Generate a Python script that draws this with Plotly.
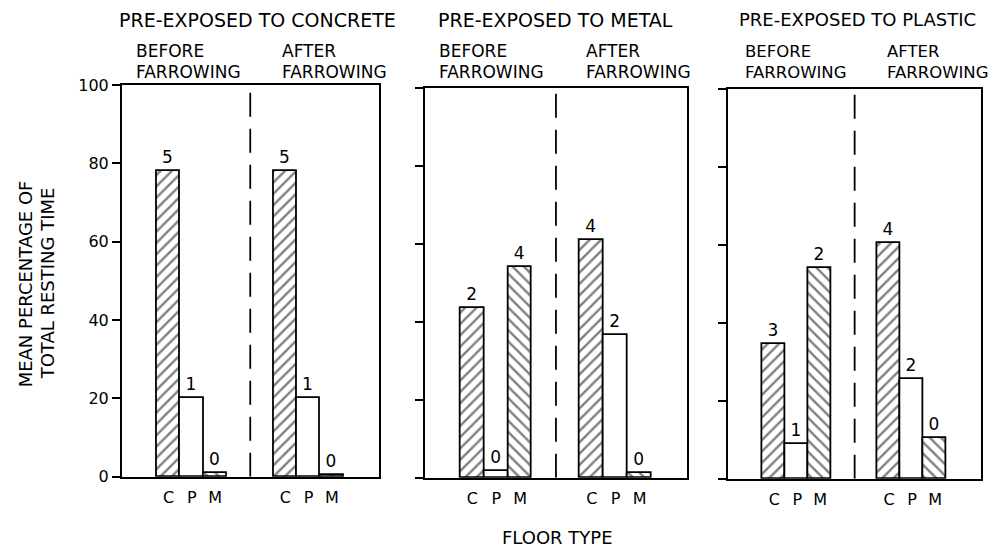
import plotly.graph_objects as go

# ---------------- data ----------------
floor_types = ["C", "P", "M"]
panel_titles = ["PRE-EXPOSED TO CONCRETE", "PRE-EXPOSED TO METAL", "PRE-EXPOSED TO PLASTIC"]
period_labels = [["BEFORE", "FARROWING"], ["AFTER", "FARROWING"]]
before_values = [[78, 20, 0.8], [43.5, 1.7, 54], [34.5, 8.8, 54]]
after_values = [[78, 20, 0.3], [61, 36.5, 1.2], [60.5, 25.5, 10.3]]
before_counts = [["5", "1", "0"], ["2", "0", "4"], ["3", "1", "2"]]
after_counts = [["5", "1", "0"], ["4", "2", "0"], ["4", "2", "0"]]
y_ticks = [0, 20, 40, 60, 80, 100]
y_title = ["MEAN PERCENTAGE OF", "TOTAL RESTING TIME"]
x_title = "FLOOR TYPE"

# ---------------- layout helpers ----------------
W, H = 998, 556
FONT = "DejaVu Sans"
px_x = [(120, 377), (423, 686), (727, 980)]
px_y = [(84, 479), (87, 480), (88, 481)]
title_cx = [256, 554, 856]
title_size = [19, 19, 18]
period_left = [(132, 278), (435, 583), (742, 884)]
before_slots = [2, 3, 4]
after_slots = [7, 8, 9]
divider_slot = 5.5

# calibrated mapping from target pixel positions to paper fractions
def fx(px):
    return (px - 6) / 999.0

def fy(py):
    return (557 - py) / 541.7

patterns = {"C": "/", "P": "", "M": "\\"}

fig = go.Figure()

for p in range(3):
    xa = "x" if p == 0 else f"x{p+1}"
    ya = "y" if p == 0 else f"y{p+1}"
    for slots, vals, counts in ((before_slots, before_values[p], before_counts[p]),
                                (after_slots, after_values[p], after_counts[p])):
        for i, ft in enumerate(floor_types):
            fig.add_trace(go.Bar(
                x=[slots[i]], y=[vals[i]], width=1.0,
                xaxis=xa, yaxis=ya,
                text=[counts[i]], textposition="outside", cliponaxis=False,
                textfont=dict(family=FONT, size=17, color="black"),
                marker=dict(
                    color="white",
                    line=dict(color="black", width=1.8),
                    pattern=dict(shape=patterns[ft], fgcolor="black", bgcolor="white",
                                 size=8, solidity=0.3, fillmode="overlay"),
                ),
                showlegend=False, hoverinfo="skip",
            ))
    # dashed divider
    fig.add_shape(type="line", xref=xa, yref=ya, x0=divider_slot, x1=divider_slot,
                  y0=0, y1=100, line=dict(color="black", width=1.8, dash="24px,12px"))

    ax_common = dict(showline=True, linecolor="black", linewidth=1.8, mirror=True,
                     showgrid=False, zeroline=False)
    fig.update_layout(**{
        ("xaxis" if p == 0 else f"xaxis{p+1}"): dict(
            domain=[fx(px_x[p][0]), fx(px_x[p][1])], anchor=ya,
            range=[0, 11], tickvals=before_slots + after_slots,
            ticktext=floor_types + floor_types, ticks="", ticklabelstandoff=5,
            tickfont=dict(family=FONT, size=16, color="black"),
            **ax_common),
        ("yaxis" if p == 0 else f"yaxis{p+1}"): dict(
            domain=[fy(px_y[p][1]), fy(px_y[p][0])], anchor=xa,
            range=[0, 100], tickvals=y_ticks, ticks="outside", ticklen=8,
            tickwidth=1.6, tickcolor="black",
            showticklabels=(p == 0),
            tickfont=dict(family=FONT, size=16, color="black"),
            **ax_common),
    })

    # panel title
    fig.add_annotation(x=fx(title_cx[p]), y=fy(18),
                       xref="paper", yref="paper", text=panel_titles[p],
                       showarrow=False, xanchor="center", yanchor="middle",
                       font=dict(family=FONT, size=title_size[p], color="black"))
    # period labels
    for k, lines in enumerate(period_labels):
        for j, line in enumerate(lines):
            fig.add_annotation(x=fx(period_left[p][k]), y=fy(50 + 21 * j),
                               xref="paper", yref="paper", text=line,
                               showarrow=False, xanchor="left", yanchor="middle",
                               font=dict(family=FONT, size=17 if p < 2 else 16.5,
                                         color="black"))

for j, line in enumerate(y_title):
    fig.add_annotation(x=fx(23 + 22 * j), y=fy(284), xref="paper", yref="paper",
                       text=line, showarrow=False, textangle=-90,
                       xanchor="center", yanchor="middle",
                       font=dict(family=FONT, size=18, color="black"))
fig.add_annotation(x=fx(556), y=fy(540), xref="paper", yref="paper", text=x_title,
                   showarrow=False, xanchor="center", yanchor="middle",
                   font=dict(family=FONT, size=18, color="black"))

fig.update_layout(width=W, height=H, margin=dict(l=0, r=0, t=0, b=0),
                  paper_bgcolor="white", plot_bgcolor="white", bargap=0,
                  font=dict(family=FONT, color="black"))

fig.write_html("out.html")
